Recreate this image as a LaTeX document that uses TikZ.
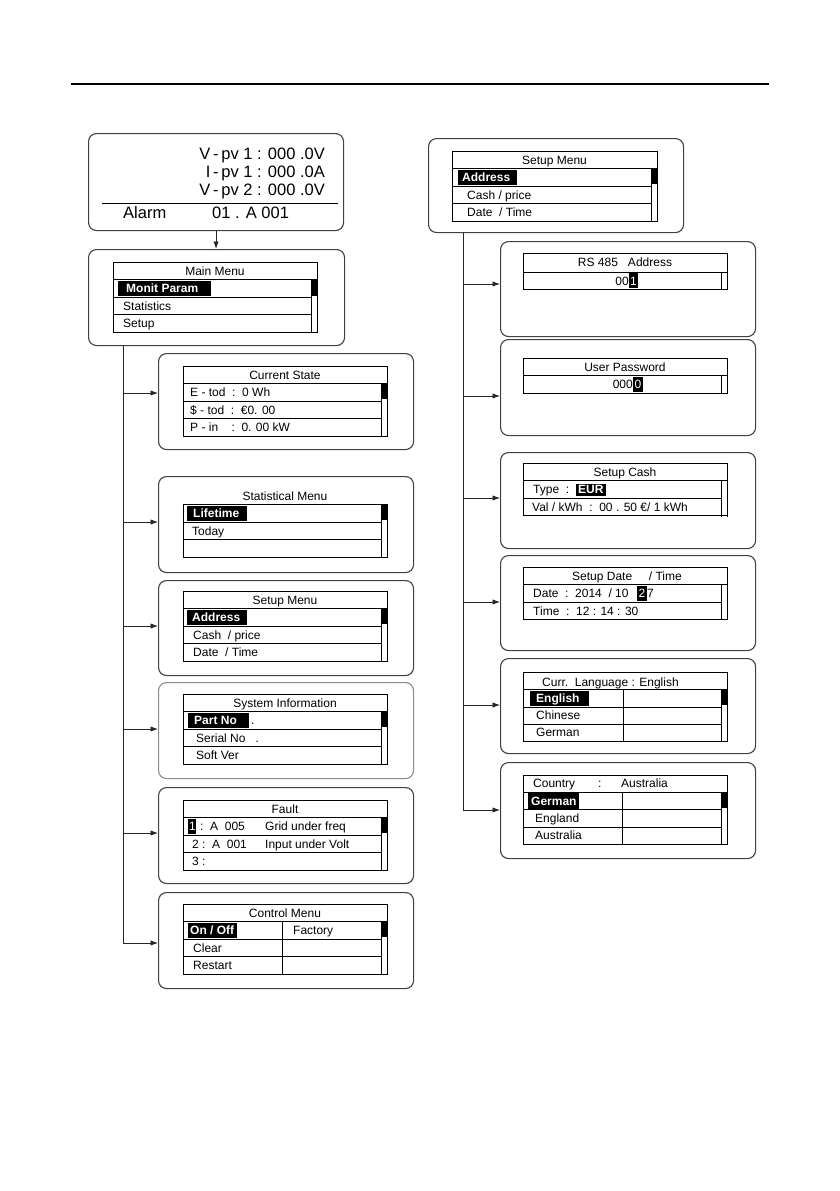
\documentclass[tikz,border=0pt]{standalone}
\usepackage{fontspec}
\setmainfont{Liberation Sans}
\usetikzlibrary{arrows.meta}
\newcommand\tfont{\fontsize{12}{14}\selectfont}
\newcommand\bfont{\fontsize{16.5}{19}\selectfont}
\tikzset{
  x=1pt, y=-1pt,
  outer/.style={draw=black!75, line width=1.1pt, rounded corners=8pt, minimum width=255pt, minimum height=96pt, anchor=north west, inner sep=0pt},
  tbl/.style={draw=black, line width=0.9pt},
  txt/.style={font=\tfont, inner sep=0pt, text height=8.8pt, text depth=2.4pt, anchor=west, yshift=-0.8pt},
  ctr/.style={txt, anchor=center},
  hl/.style={txt, text=white, font={\tfont\bfseries}},
  big/.style={font=\bfont, inner sep=0pt, text height=11.5pt, text depth=3pt},
  arr/.style={draw=black!85, line width=0.9pt, -{Latex[length=7.5pt,width=5.5pt]}},
  trunk/.style={draw=black!85, line width=0.9pt},
}
% x1 x2 y0 y1 y2 y3 y4 thumbbottom
\newcommand\listtab[8]{%
  \pgfmathsetmacro\sx{#2-6}%
  \draw[tbl] (#1,#3) rectangle (#2,#7);
  \draw[tbl] (#1,#4) -- (#2,#4);
  \draw[tbl] (#1,#5) -- (\sx,#5) (#1,#6) -- (\sx,#6);
  \draw[tbl] (\sx,#4) -- (\sx,#7);
  \fill (\sx,#4) rectangle (#2,#8);
}
\begin{document}
\begin{tikzpicture}
\useasboundingbox (0,0) rectangle (839,1191);
\fill[white] (0,0) rectangle (839,1191);
% header rule
\draw[line width=1.2pt] (71,84) -- (769,84);

% ---------- outer boxes ----------
\node[outer, minimum width=255pt, minimum height=97pt] (b1) at (88,133) {};
\node[outer, minimum width=256pt] (mm) at (88,249) {};
\node[outer] (cs) at (158,353) {};
\node[outer] (st) at (158,476) {};
\node[outer, minimum height=95pt] (sm) at (158,580) {};
\node[outer, draw=black!45] (si) at (158,682) {};
\node[outer] (fa) at (158,787) {};
\node[outer] (cm) at (158,892) {};
\node[outer, minimum height=94pt] (rs) at (428,138) {};
\node[outer, minimum height=95pt] (ra) at (500,241) {};
\node[outer] (rp) at (500,339) {};
\node[outer] (rc) at (500,452) {};
\node[outer, minimum height=95pt] (rd) at (500,555) {};
\node[outer, minimum height=95pt] (rl) at (500,658) {};
\node[outer] (rk) at (500,762) {};

% ---------- status box ----------
\node[big, anchor=east] (v1) at (325,155) {V\,-\,pv 1 : 000 .0V};
\node[big, anchor=east] (i1) at (325,173) {I\,-\,pv 1 : 000 .0A};
\node[big, anchor=east] (v2) at (325,191) {V\,-\,pv 2 : 000 .0V};
\draw[line width=1pt] (102,203) -- (338,203);
\node[big, anchor=west] (al) at (123,214) {Alarm};
\node[big, anchor=west] (ac) at (212,214) {01 . A 001};

% ---------- main menu ----------
\listtab{113}{317}{262}{279.5}{297}{314.5}{332}{296}
\node[ctr] (mmt) at (215,271) {Main Menu};
\fill (118,280.5) rectangle (211,296);
\node[hl] (mmh) at (126,288.5) {Monit Param};
\node[txt] (mm2) at (123,306) {Statistics};
\node[txt] (mm3) at (123,323.5) {Setup};

% ---------- current state ----------
\listtab{183}{387}{366}{383.5}{401}{418.5}{436}{399}
\node[ctr] (cst) at (285,375) {Current State};
\node[txt] (cs1) at (190,392.5) {E - tod\ \ :\ \ 0 Wh};
\node[txt] (cs2) at (190,410) {\$ - tod\ \ :\ \ €0. 00};
\node[txt] (cs3) at (190,427.5) {P - in\ \ \ \ :\ \ 0. 00 kW};

% ---------- statistical menu ----------
\listtab{183}{387}{504.5}{504.5}{522}{539.5}{557}{520}
\node[ctr] (stt) at (285,496) {Statistical Menu};
\fill (187,505.5) rectangle (247,521);
\node[hl] (sth) at (193,513.5) {Lifetime};
\node[txt] (st2) at (192,531) {Today};

% ---------- setup menu (left) ----------
\listtab{183}{387}{591}{608.5}{626}{643.5}{661}{624}
\node[ctr] (smt) at (285,600) {Setup Menu};
\fill (187,609.5) rectangle (247,625);
\node[hl] (smh) at (192,617.5) {Address};
\node[txt] (sm2) at (193,635) {Cash\ \ / price};
\node[txt] (sm3) at (193,652.5) {Date\ \ / Time};

% ---------- system information ----------
\listtab{183}{387}{694}{711.5}{729}{746.5}{764}{727}
\node[ctr] (sit) at (285,703) {System Information};
\fill (188,712.5) rectangle (249,728);
\node[hl] (sih) at (194,720.5) {Part No};
\node[txt] (sid) at (251,720.5) {.};
\node[txt] (si2) at (196,738) {Serial No\ \ \ .};
\node[txt] (si3) at (196,755.5) {Soft Ver};

% ---------- fault ----------
\listtab{183}{387}{800}{817.5}{835}{852.5}{870}{833}
\node[ctr] (fat) at (285,809) {Fault};
\fill (188,818.5) rectangle (196,834);
\node[hl, font=\tfont] (fah) at (189,826.5) {1};
\node[txt] (fa1) at (200,826.5) {:\ \ A\ \ 005};
\node[txt] (fa1b) at (265,826.5) {Grid under freq};
\node[txt] (fa2) at (192,844) {2 :\ \ A\ \ 001};
\node[txt] (fa2b) at (265,844) {Input under Volt};
\node[txt] (fa3) at (192,861.5) {3 :};

% ---------- control menu ----------
\listtab{183}{387}{904}{921.5}{939}{956.5}{974}{937}
\draw[tbl] (282,921.5) -- (282,974);
\node[ctr] (cmt) at (285,913) {Control Menu};
\fill (188,922.5) rectangle (237,938);
\node[hl] (cmh) at (190,930.5) {On / Off};
\node[txt] (cmf) at (293,930.5) {Factory};
\node[txt] (cm2) at (193,948) {Clear};
\node[txt] (cm3) at (193,965.5) {Restart};

% ---------- setup menu (right) ----------
\listtab{452}{657}{151}{168.5}{186}{203.5}{221}{184}
\node[ctr] (rst) at (554.5,160) {Setup Menu};
\fill (458,169.5) rectangle (517,185);
\node[hl] (rsh) at (462,177.5) {Address};
\node[txt] (rs2) at (467,195) {Cash / price};
\node[txt] (rs3) at (467,212.5) {Date\ \ / Time};

% ---------- RS 485 address ----------
\draw[tbl] (523,253) rectangle (727,289);
\draw[tbl] (523,272) -- (727,272);
\draw[tbl] (721,272) -- (721,290);
\node[ctr] (rat) at (625,262.5) {RS 485\ \ \ Address};
\node[txt, anchor=east] (ra1) at (629,281) {00};
\fill (629,273) rectangle (638,288);
\node[hl, font=\tfont, anchor=center] (rah) at (633.5,281) {1};

% ---------- user password ----------
\draw[tbl] (523,358) rectangle (727,393);
\draw[tbl] (523,375.5) -- (727,375.5);
\draw[tbl] (721,375.5) -- (721,393);
\node[ctr] (rpt) at (625,367) {User Password};
\node[txt, anchor=east] (rp1) at (633,384.5) {000};
\fill (633,376.5) rectangle (643,392);
\node[hl, font=\tfont, anchor=center] (rph) at (638,384.5) {0};

% ---------- setup cash ----------
\draw[tbl] (523,463) rectangle (727,515.5);
\draw[tbl] (523,480.5) -- (727,480.5);
\draw[tbl] (523,498) -- (721,498);
\draw[tbl] (721,480.5) -- (721,517);
\draw[tbl] (727,515.5) -- (727,517);
\node[ctr] (rct) at (625,472) {Setup Cash};
\node[txt] (rc1) at (533,489.5) {Type\ \ :};
\fill (576,483.5) rectangle (606,495.5);
\node[hl] (rch) at (578,489.5) {EUR};
\node[txt] (rc2) at (532,507) {Val / kWh\ \ :\ \ 00 . 50 €/ 1 kWh};

% ---------- setup date / time ----------
\draw[tbl] (523,567) rectangle (727,619.5);
\draw[tbl] (523,584.5) -- (727,584.5);
\draw[tbl] (523,602) -- (721,602);
\draw[tbl] (721,584.5) -- (721,620);
\node[ctr] (rdt) at (627,576) {Setup Date\ \ \ \ \ / Time};
\node[txt] (rd1) at (533,593.5) {Date\ \ :\ \ 2014\ \ / 10};
\fill (637,585.5) rectangle (647,601);
\node[hl, font=\tfont, anchor=center] (rdh) at (642,593.5) {2};
\node[txt] (rd1b) at (647,593.5) {7};
\node[txt] (rd2) at (533,611) {Time\ \ :\ \ 12 : 14 : 30};

% ---------- language ----------
\listtab{523}{727}{672}{689.5}{707}{724}{741}{705}
\draw[tbl] (623,689.5) -- (623,741);
\node[txt] (rlt) at (542,682) {Curr.\ \ Language : English};
\fill (530,690.5) rectangle (589,706);
\node[hl] (rlh) at (536,698.5) {English};
\node[txt] (rl2) at (536,715.5) {Chinese};
\node[txt] (rl3) at (536,732.5) {German};

% ---------- country ----------
\listtab{523}{727}{775}{792}{809.5}{827}{844}{808}
\draw[tbl] (622,792) -- (622,844);
\node[txt] (rkt) at (533,783.5) {Country};
\node[txt] (rkc) at (598,783.5) {:};
\node[txt] (rka) at (621,783.5) {Australia};
\fill (528,793) rectangle (579,808.5);
\node[hl] (rkh) at (531,801) {German};
\node[txt] (rk2) at (535,818.5) {England};
\node[txt] (rk3) at (535,835.5) {Australia};

% ---------- connectors ----------
\draw[arr] (b1.south) -- (b1.south |- mm.north);
\coordinate (lt) at (123,943);
\draw[trunk] (mm.south -| lt) -- (lt);
\foreach \n/\yy in {cs/393, st/522, sm/626, si/729, fa/833, cm/943} {
  \coordinate (l\n) at (123,\yy);
  \draw[arr] (l\n) -- (l\n -| \n.west);
}
\coordinate (rt) at (463,810);
\draw[trunk] (rs.south -| rt) -- (rt);
\foreach \n/\yy in {ra/284, rp/396, rc/498, rd/602, rl/705, rk/810} {
  \coordinate (r\n) at (463,\yy);
  \draw[arr] (r\n) -- (r\n -| \n.west);
}
\end{tikzpicture}
\end{document}
